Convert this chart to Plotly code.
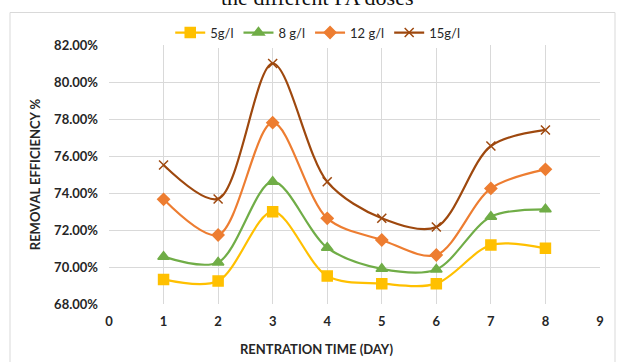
import plotly.graph_objects as go

# Retention time (days) and removal efficiency (%) for each dose
days = [1, 2, 3, 4, 5, 6, 7, 8]
series_names = ["5g/l", "8 g/l", "12 g/l", "15g/l"]
eff_5 = [69.33, 69.24, 72.99, 69.51, 69.10, 69.10, 71.19, 71.01]
eff_8 = [70.56, 70.25, 74.61, 71.04, 69.90, 69.87, 72.72, 73.12]
eff_12 = [73.66, 71.73, 77.80, 72.63, 71.46, 70.65, 74.25, 75.28]
eff_15 = [75.51, 73.68, 81.00, 74.61, 72.64, 72.16, 76.54, 77.41]
x_ticks = list(range(0, 10))
y_ticks = [68, 70, 72, 74, 76, 78, 80, 82]

colors = ["#FFC000", "#70AD47", "#ED7D31", "#9E480E"]
symbols = ["square", "triangle-up", "diamond", "x-thin"]
sizes = [10, 10, 9, 9]

fig = go.Figure()
for name, vals, col, sym, sz in zip(series_names, [eff_5, eff_8, eff_12, eff_15],
                                    colors, symbols, sizes):
    fig.add_trace(go.Scatter(
        x=days, y=vals, name=name, mode="lines+markers",
        line=dict(color=col, width=2.2, shape="spline", smoothing=0.9),
        marker=dict(symbol=sym, size=sz, color=col, line=dict(color=col, width=1.5)),
    ))

font_family = "Lato, Open Sans, sans-serif"
title_font = dict(size=13, color="#262626", family=font_family, weight="bold")

fig.update_layout(
    width=623, height=362,
    margin=dict(l=109, r=23, t=45, b=58, autoexpand=False),
    paper_bgcolor="white", plot_bgcolor="white",
    font=dict(family=font_family, color="#262626"),
    showlegend=True,
    legend=dict(
        orientation="h", xref="container", x=0.51, xanchor="center",
        yref="container", y=0.91, yanchor="middle",
        font=dict(size=13, color="#262626", family=font_family),
        itemwidth=30, tracegroupgap=0,
    ),
    xaxis=dict(
        range=[0, 9], tickvals=x_ticks, ticktext=[str(v) for v in x_ticks],
        showgrid=True, gridcolor="#D9D9D9", gridwidth=1, zeroline=False,
        showline=False, ticks="", ticklabelstandoff=8,
        tickfont=dict(size=13, color="#262626", family=font_family, weight="bold"),
    ),
    yaxis=dict(
        range=[68, 82], tickvals=y_ticks, ticktext=[f"{v:.2f}%" for v in y_ticks],
        showgrid=True, gridcolor="#D9D9D9", gridwidth=1, zeroline=False,
        showline=False, ticks="", ticklabelstandoff=10,
        tickfont=dict(size=13, color="#262626", family=font_family, weight="bold"),
        title=dict(text="REMOVAL EFFICIENCY %", standoff=10, font=title_font),
    ),
    shapes=[dict(
        type="rect", xref="paper", yref="paper",
        x0=-99 / 491, x1=506 / 491, y0=-70 / 259, y1=1 + 32.5 / 259,
        line=dict(color="#D9D9D9", width=1), fillcolor="rgba(0,0,0,0)", layer="below",
    )],
    annotations=[
        dict(
            text="the different PA doses", xref="paper", yref="paper",
            x=(317 - 109) / 491, y=1 + 33 / 259, xanchor="center", yanchor="bottom",
            showarrow=False,
            font=dict(size=22, color="#111111", family="Liberation Serif, serif"),
        ),
        dict(
            text="RENTRATION TIME (DAY)", xref="paper", yref="paper",
            x=(316 - 109) / 491, y=-(349 - 304) / 259, xanchor="center", yanchor="middle",
            showarrow=False, font=title_font,
        ),
    ],
)

fig.write_html("out.html")
